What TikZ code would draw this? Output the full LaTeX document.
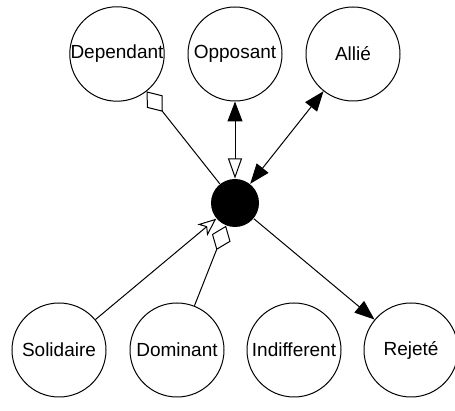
\documentclass[tikz,border=0pt]{standalone}
\usepackage{fontspec}
\setmainfont{Liberation Sans}
\usetikzlibrary{arrows.meta}

\tikzset{
  role/.style={draw, circle, minimum size=94pt, inner sep=0pt,
    font=\fontsize{19}{22}\selectfont},
  hub/.style={circle, fill=black, minimum size=48pt, inner sep=0pt},
  Tfull/.tip={Triangle[length=20pt,width=15pt]},
  Topen/.tip={Triangle[open,length=20pt,width=14pt]},
  Dopen/.tip={Diamond[open,length=26pt,width=20pt]},
  Vopen/.tip={Stealth[open,length=18pt,width=15pt,inset=5pt]}
}

\begin{document}
\begin{tikzpicture}[x=1pt, y=1pt, line width=1pt]
    \useasboundingbox (0,0) rectangle (455,411);
    % top row
    \foreach \x/\name/\txt in {117/Dependant/Dependant,235/Opposant/Opposant,353/Allie/Allié}
      \node[role] (\name) at (\x,357) {\txt};
    % bottom row
    \foreach \x/\name/\txt in {59/Solidaire/Solidaire,177/Dominant/Dominant,294/Indifferent/Indifferent,411/Rejete/Rejeté}
      \node[role] (\name) at (\x,61) {\txt};
    \node[hub] (centre) at (235,208) {};
    % relations
    \draw[Dopen-] (Dependant) -- (centre);
    \draw[Tfull-Topen] (Opposant) -- (centre);
    \draw[Tfull-Tfull] (Allie) -- (centre);
    \draw[-Vopen] (Solidaire) -- (centre);
    \draw[-Dopen] (Dominant) -- (centre);
    \draw[-Tfull] (centre) -- (Rejete);
  \end{tikzpicture}
\end{document}
